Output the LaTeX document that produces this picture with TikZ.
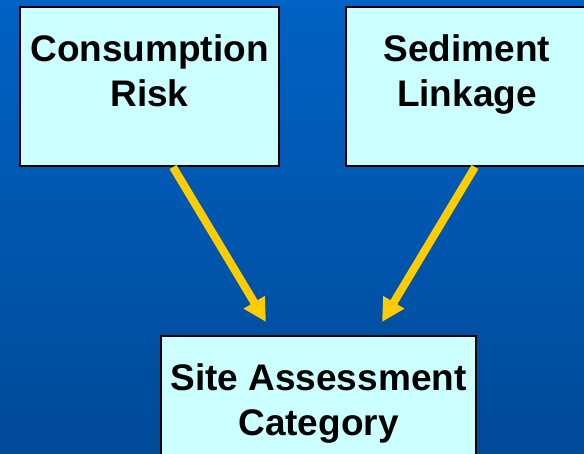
\documentclass[tikz,border=0pt]{standalone}
\usepackage{fontspec}
\setmainfont{Liberation Sans}
\usetikzlibrary{arrows.meta}
\definecolor{bgtop}{RGB}{0,98,196}
\definecolor{bgbot}{RGB}{0,74,152}
\definecolor{boxfill}{RGB}{204,255,255}
\definecolor{arrowcol}{RGB}{255,204,0}
\tikzset{
  box/.style={draw=black, line width=2pt, fill=boxfill, inner sep=0pt, minimum width=#1, minimum height=159pt},
  lbl/.style={font=\fontsize{37}{45}\selectfont\bfseries, align=center, inner sep=0pt, anchor=north},
  flow/.style={draw=arrowcol, line width=8pt, -{Triangle[width=23pt,length=23pt]}, shorten <=0pt}
}
\begin{document}
\begin{tikzpicture}[x=1pt,y=-1pt]
\useasboundingbox (0,0) rectangle (584,453);
\clip (0,0) rectangle (584,453);
\shade[top color=bgtop, bottom color=bgbot] (0,0) rectangle (584,453);
\node[box=259pt] (cr) at (149.5,86.5) {};
\node[box=242pt] (sl) at (467,86.5) {};
\node[box=315pt] (sa) at (318.5,415.5) {};
\node[lbl] (crt) at ([yshift=-28]cr.north) {Consumption\\Risk};
\node[lbl] (slt) at ([yshift=-28]sl.north) {Sediment\\Linkage};
\node[lbl] (sat) at ([yshift=-28]sa.north) {Site Assessment\\Category};
\coordinate (a1s) at ([xshift=23.5]cr.south);
\coordinate (a1e) at ([xshift=-52.5,yshift=13]sa.north);
\coordinate (a2s) at ([xshift=8]sl.south);
\coordinate (a2e) at ([xshift=63.5,yshift=13]sa.north);
\draw[flow] (a1s) -- (a1e);
\draw[flow] (a2s) -- (a2e);
\end{tikzpicture}
\end{document}
